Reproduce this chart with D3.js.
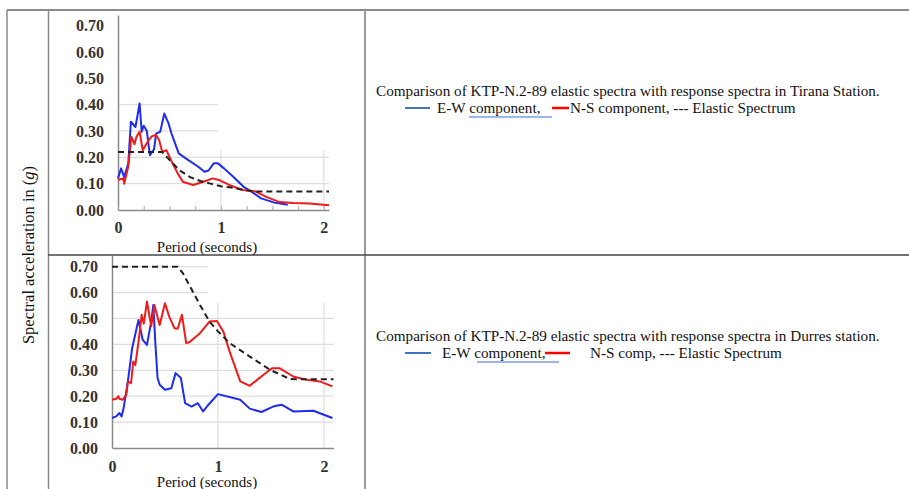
<!DOCTYPE html>
<html>
<head>
<meta charset="utf-8">
<script src="https://cdn.jsdelivr.net/npm/d3@7"></script>
<style>
    body { margin: 0; background: #fff; }
    svg { display: block; }
</style>
</head>
<body>
<div id="chart"></div>
<script>
// ---- data ----
// Tirana station
var tiranaEW_T = [0, 0.03, 0.06, 0.1, 0.125, 0.17, 0.21, 0.23, 0.25, 0.28, 0.31, 0.35, 0.37, 0.41, 0.45, 0.49, 0.52, 0.59, 0.68, 0.78, 0.84, 0.88, 0.93, 0.97, 1.03, 1.12, 1.22, 1.3, 1.39, 1.52, 1.65]
var tiranaEW_A = [0.12, 0.158, 0.125, 0.177, 0.335, 0.315, 0.404, 0.297, 0.32, 0.3, 0.208, 0.23, 0.29, 0.297, 0.366, 0.33, 0.29, 0.215, 0.19, 0.164, 0.145, 0.15, 0.177, 0.177, 0.158, 0.126, 0.088, 0.069, 0.044, 0.028, 0.02]
var tiranaNS_T = [0, 0.05, 0.06, 0.1, 0.13, 0.16, 0.18, 0.21, 0.24, 0.29, 0.33, 0.37, 0.4, 0.43, 0.47, 0.53, 0.58, 0.63, 0.73, 0.83, 0.92, 0.98, 1.08, 1.21, 1.34, 1.44, 1.57, 1.7, 1.86, 2.05]
var tiranaNS_A = [0.114, 0.12, 0.1, 0.165, 0.278, 0.25, 0.278, 0.297, 0.227, 0.26, 0.28, 0.285, 0.265, 0.22, 0.227, 0.177, 0.139, 0.107, 0.095, 0.107, 0.12, 0.114, 0.095, 0.076, 0.07, 0.05, 0.03, 0.027, 0.025, 0.018]
var tiranaEl_T = [0, 0.43, 0.5, 0.6, 0.7, 0.8, 0.9, 1.0, 1.1, 1.2, 1.3, 1.35, 2.05]
var tiranaEl_A = [0.22, 0.22, 0.19, 0.15, 0.125, 0.11, 0.1, 0.09, 0.085, 0.078, 0.072, 0.07, 0.07]

// Durres station
var durresEW_T = [0, 0.04, 0.07, 0.09, 0.11, 0.15, 0.19, 0.25, 0.29, 0.33, 0.37, 0.39, 0.41, 0.43, 0.45, 0.5, 0.56, 0.6, 0.65, 0.69, 0.75, 0.81, 0.86, 0.91, 1.0, 1.21, 1.3, 1.41, 1.52, 1.6, 1.71, 1.9, 2.08]
var durresEW_A = [0.116, 0.122, 0.135, 0.122, 0.154, 0.257, 0.385, 0.494, 0.417, 0.398, 0.488, 0.552, 0.398, 0.27, 0.244, 0.225, 0.231, 0.289, 0.27, 0.173, 0.16, 0.173, 0.141, 0.167, 0.208, 0.186, 0.152, 0.139, 0.16, 0.167, 0.141, 0.144, 0.116]
var durresNS_T = [0, 0.04, 0.06, 0.07, 0.1, 0.135, 0.15, 0.18, 0.2, 0.22, 0.25, 0.28, 0.3, 0.33, 0.37, 0.4, 0.42, 0.45, 0.5, 0.54, 0.59, 0.62, 0.66, 0.7, 0.73, 0.83, 0.92, 0.99, 1.05, 1.11, 1.21, 1.3, 1.43, 1.51, 1.58, 1.71, 1.84, 1.96, 2.08]
var durresNS_A = [0.186, 0.19, 0.2, 0.19, 0.186, 0.205, 0.257, 0.25, 0.334, 0.32, 0.41, 0.514, 0.48, 0.565, 0.47, 0.552, 0.52, 0.475, 0.559, 0.507, 0.462, 0.46, 0.514, 0.405, 0.408, 0.443, 0.488, 0.49, 0.45, 0.372, 0.257, 0.24, 0.283, 0.308, 0.308, 0.276, 0.263, 0.257, 0.238]
var durresEl_T = [0, 0.62, 0.67, 0.83, 0.92, 1.0, 1.11, 1.3, 1.49, 1.68, 1.75, 2.09]
var durresEl_A = [0.70, 0.70, 0.674, 0.552, 0.488, 0.45, 0.405, 0.353, 0.302, 0.266, 0.265, 0.265]

var yTicks = [0, 0.1, 0.2, 0.3, 0.4, 0.5, 0.6, 0.7]
var xTicks = [0, 1, 2]

var blue = "#1e2cf0"
var red = "#f01a1a"
var serif = "'Liberation Serif', 'Times New Roman', serif"

var svg = d3.select("#chart").append("svg")
    .attr("width", 909)
    .attr("height", 489)

// ---- table frame ----
var frame = svg.append("g").attr("fill", "none")
frame.append("line").attr("x1", 7).attr("x2", 909).attr("y1", 10).attr("y2", 10).attr("stroke", "#8a8a8a").attr("stroke-width", 2)
frame.append("line").attr("x1", 7).attr("x2", 7).attr("y1", 10).attr("y2", 489).attr("stroke", "#8a8a8a").attr("stroke-width", 1.5)
frame.append("line").attr("x1", 48.5).attr("x2", 48.5).attr("y1", 10).attr("y2", 489).attr("stroke", "#8a8a8a").attr("stroke-width", 1.5)
frame.append("line").attr("x1", 365).attr("x2", 365).attr("y1", 10).attr("y2", 489).attr("stroke", "#9a9a9a").attr("stroke-width", 2)
frame.append("line").attr("x1", 48).attr("x2", 909).attr("y1", 255).attr("y2", 255).attr("stroke", "#444").attr("stroke-width", 1.5)

// left rotated label
var ylab = svg.append("text")
    .attr("transform", "translate(34,255) rotate(-90)")
    .attr("text-anchor", "middle")
    .style("font-family", serif).style("font-size", "16.5px").style("fill", "#111")
ylab.append("tspan").text("Spectral acceleration in (")
ylab.append("tspan").style("font-style", "italic").text("g")
ylab.append("tspan").text(")")

function zip(T, A) {
    return T.map(function (t, i) { return {t: t, a: A[i]} })
}

function drawChart(cfg) {
    var x = d3.scaleLinear().domain(cfg.xDomain).range(cfg.xRange)
    var y = d3.scaleLinear().domain(cfg.yDomain).range(cfg.yRange)
    var g = svg.append("g")

    // partial gridlines, like the original
    cfg.hGrid.forEach(function (h) {
        g.append("line")
            .attr("x1", x(0)).attr("x2", x(h[1]))
            .attr("y1", y(h[0])).attr("y2", y(h[0]))
            .attr("stroke", "#dedede").attr("stroke-width", 1.2)
    })
    cfg.vGrid.forEach(function (v) {
        g.append("line")
            .attr("x1", x(v[0])).attr("x2", x(v[0]))
            .attr("y1", y(0)).attr("y2", y(v[1]))
            .attr("stroke", "#dedede").attr("stroke-width", 1.2)
    })

    // axes
    var yAxis = g.append("g")
        .attr("transform", "translate(" + x(0) + ",0)")
        .call(d3.axisLeft(y).tickValues(yTicks).tickFormat(d3.format(".2f")).tickSize(0).tickPadding(cfg.yPad))
    yAxis.select(".domain").attr("stroke", "#8a8a8a").attr("stroke-width", 1.5)

    var xAxis = g.append("g")
        .attr("transform", "translate(0," + y(0) + ")")
        .call(d3.axisBottom(x).tickValues(cfg.xTickVals)
            .tickFormat(function (d) { return xTicks.indexOf(d) >= 0 ? d : "" })
            .tickSizeInner(cfg.tickIn).tickSizeOuter(0).tickPadding(cfg.xPad))
    xAxis.select(".domain").attr("stroke", "#8a8a8a").attr("stroke-width", 1.5)
    xAxis.selectAll(".tick line").attr("stroke", "#aaa")

    g.selectAll(".tick text")
        .style("font-family", serif)
        .style("font-weight", "bold")
        .style("font-size", "16px")
        .style("fill", "#333")

    g.append("text")
        .attr("x", cfg.labelX).attr("y", cfg.labelY)
        .attr("text-anchor", "middle")
        .style("font-family", serif).style("font-size", "15px").style("fill", "#111")
        .text("Period (seconds)")

    var line = d3.line()
        .x(function (d) { return x(d.t) })
        .y(function (d) { return y(d.a) })

    g.append("path").datum(zip(cfg.ew[0], cfg.ew[1]))
        .attr("d", line).attr("fill", "none")
        .attr("stroke", blue).attr("stroke-width", 2).attr("stroke-linejoin", "round")
    g.append("path").datum(zip(cfg.ns[0], cfg.ns[1]))
        .attr("d", line).attr("fill", "none")
        .attr("stroke", red).attr("stroke-width", 2).attr("stroke-linejoin", "round")
    g.append("path").datum(zip(cfg.el[0], cfg.el[1]))
        .attr("d", line).attr("fill", "none")
        .attr("stroke", "#222").attr("stroke-width", 2).attr("stroke-dasharray", "6,4")
}

// top: Tirana
drawChart({
    xDomain: [0, 2.05], xRange: [118, 329],
    yDomain: [0, 0.74], yRange: [210, 15],
    yPad: 14, xPad: 12, tickIn: -4,
    xTickVals: d3.range(0, 2.01, 0.25),
    hGrid: [[0.1, 2.05], [0.2, 2.05], [0.3, 0.97], [0.4, 0.97]],
    vGrid: [[1, 0.23], [2, 0.23]],
    labelX: 207, labelY: 252,
    ew: [tiranaEW_T, tiranaEW_A],
    ns: [tiranaNS_T, tiranaNS_A],
    el: [tiranaEl_T, tiranaEl_A]
})

// bottom: Durres
drawChart({
    xDomain: [0, 2.09], xRange: [112, 333.5],
    yDomain: [0, 0.745], yRange: [448, 255],
    yPad: 14, xPad: 13, tickIn: 0,
    xTickVals: xTicks,
    hGrid: [[0.1, 2.09], [0.2, 2.09], [0.3, 2.09], [0.4, 2.09], [0.5, 2.09], [0.6, 0.9], [0.7, 0.9]],
    vGrid: [[1, 0.56], [2, 0.56]],
    labelX: 207, labelY: 487,
    ew: [durresEW_T, durresEW_A],
    ns: [durresNS_T, durresNS_A],
    el: [durresEl_T, durresEl_A]
})

// ---- captions with inline legend ----
function caption(cfg) {
    var c = svg.append("g")
        .style("font-family", serif).style("font-size", "15.2px").style("fill", "#111")
    c.append("text").attr("x", 376).attr("y", cfg.y1).text(cfg.title)
    c.append("line").attr("x1", cfg.blue[0]).attr("x2", cfg.blue[1]).attr("y1", cfg.ly).attr("y2", cfg.ly)
        .attr("stroke", "#4472c4").attr("stroke-width", 2)
    c.append("line").attr("x1", cfg.red[0]).attr("x2", cfg.red[1]).attr("y1", cfg.ly).attr("y2", cfg.ly)
        .attr("stroke", "#ff0000").attr("stroke-width", 2.5)
    c.append("line").attr("x1", cfg.ul[0]).attr("x2", cfg.ul[1]).attr("y1", cfg.ly + 9).attr("y2", cfg.ly + 9)
        .attr("stroke", "#7a9ee0").attr("stroke-width", 1.5)
    c.append("text").attr("x", cfg.t1).attr("y", cfg.y2).text("E-W component,")
    c.append("text").attr("x", cfg.t2).attr("y", cfg.y2).text(cfg.rest)
}

caption({
    y1: 96, y2: 113, ly: 108,
    title: "Comparison of KTP-N.2-89 elastic spectra with response spectra in Tirana Station.",
    blue: [405, 430], red: [552, 569], ul: [469, 552],
    t1: 437, t2: 570,
    rest: "N-S component, --- Elastic Spectrum"
})

caption({
    y1: 341, y2: 358, ly: 353,
    title: "Comparison of KTP-N.2-89 elastic spectra with response spectra in Durres station.",
    blue: [405, 431], red: [545, 570], ul: [477, 559],
    t1: 442, t2: 590,
    rest: "N-S comp, --- Elastic Spectrum"
})
</script>
</body>
</html>
